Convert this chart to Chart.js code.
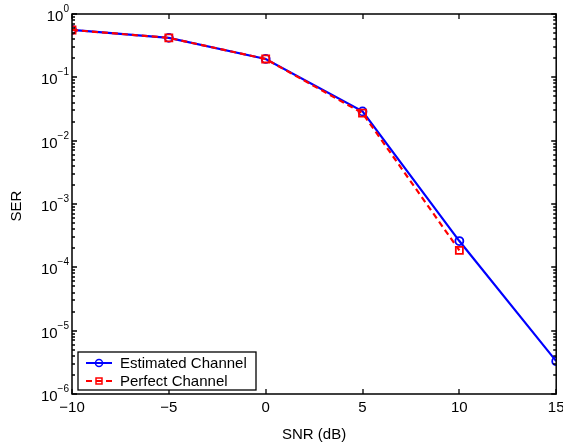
<!DOCTYPE html>
<html>
<head>
<meta charset="utf-8">
<script src="https://cdn.jsdelivr.net/npm/chart.js@4"></script>
<style>
  html, body { margin: 0; padding: 0; background: #fff; }
  #wrap { width: 563px; height: 445px; }
</style>
</head>
<body>
<div id="wrap"><canvas id="serChart" width="563" height="445"></canvas></div>
<script>
const snr = [-10, -5, 0, 5, 10, 15];
const serEstimated = [0.56, 0.42, 0.195, 0.0290, 2.6e-4, 3.3e-6];
const serPerfect = [0.56, 0.42, 0.195, 0.0272, 1.85e-4];
const xTicks = [-10, -5, 0, 5, 10, 15];
const yExponents = [0, -1, -2, -3, -4, -5, -6];
const seriesLabels = ['Estimated Channel', 'Perfect Channel'];

const FONT = '"Liberation Sans", Arial, sans-serif';

// axes box, ticks, superscript labels and legend drawn the MATLAB way
const matlabAxes = {
    id: 'matlabAxes',
    afterDraw(chart) {
        const ctx = chart.ctx;
        const xs = chart.scales.x, ys = chart.scales.y;
        const { left, right, top, bottom } = chart.chartArea;
        ctx.save();
        ctx.strokeStyle = '#000';
        ctx.lineWidth = 1.5;
        ctx.beginPath();
        ctx.rect(left, top, right - left, bottom - top);
        ctx.stroke();

        ctx.lineWidth = 1.3;
        ctx.beginPath();
        xTicks.forEach(v => {
            const px = Math.round(xs.getPixelForValue(v));
            ctx.moveTo(px, bottom); ctx.lineTo(px, bottom - 5);
            ctx.moveTo(px, top); ctx.lineTo(px, top + 5);
        });
        yExponents.forEach(e => {
            const py = Math.round(ys.getPixelForValue(Math.pow(10, e)));
            ctx.moveTo(left, py); ctx.lineTo(left + 5, py);
            ctx.moveTo(right, py); ctx.lineTo(right - 5, py);
            if (e > -6) {
                for (let m = 2; m <= 9; m++) {
                    const my = Math.round(ys.getPixelForValue(m * Math.pow(10, e - 1)));
                    ctx.moveTo(left, my); ctx.lineTo(left + 3, my);
                    ctx.moveTo(right, my); ctx.lineTo(right - 3, my);
                }
            }
        });
        ctx.stroke();

        ctx.fillStyle = '#000';
        ctx.font = '15px ' + FONT;
        ctx.textAlign = 'center';
        ctx.textBaseline = 'alphabetic';
        xTicks.forEach(v => {
            const label = v < 0 ? '\u2212' + Math.abs(v) : String(v);
            ctx.fillText(label, xs.getPixelForValue(v), bottom + 18);
        });

        yExponents.forEach(e => {
            const py = ys.getPixelForValue(Math.pow(10, e));
            const sup = e < 0 ? '\u2212' + Math.abs(e) : String(e);
            ctx.font = '10px ' + FONT;
            const supW = ctx.measureText(sup).width;
            ctx.font = '15px ' + FONT;
            const baseW = ctx.measureText('10').width;
            const xEnd = left - 3;
            ctx.textAlign = 'left';
            ctx.fillText('10', xEnd - supW - baseW, py + 7);
            ctx.font = '10px ' + FONT;
            ctx.fillText(sup, xEnd - supW, py - 2);
        });

        ctx.font = '15px ' + FONT;
        ctx.textAlign = 'center';
        ctx.textBaseline = 'middle';
        ctx.fillText('SNR (dB)', (left + right) / 2, 435);
        ctx.save();
        ctx.translate(17, (top + bottom) / 2 + 2);
        ctx.rotate(-Math.PI / 2);
        ctx.fillText('SER', 0, 0);
        ctx.restore();

        // legend
        const lx = 78, ly = 352, lw = 178, lh = 38;
        ctx.fillStyle = '#fff';
        ctx.fillRect(lx, ly, lw, lh);
        ctx.strokeStyle = '#000';
        ctx.lineWidth = 1.3;
        ctx.strokeRect(lx, ly, lw, lh);
        const rows = [ly + 11, ly + 29];
        chart.data.datasets.forEach((ds, i) => {
            const ry = rows[i];
            ctx.strokeStyle = ds.borderColor;
            ctx.lineWidth = 2;
            ctx.setLineDash(ds.borderDash || []);
            ctx.beginPath();
            ctx.moveTo(86, ry); ctx.lineTo(112, ry);
            ctx.stroke();
            ctx.setLineDash([]);
            ctx.lineWidth = 1.5;
            ctx.beginPath();
            if (ds.pointStyle === 'rect') {
                ctx.rect(96, ry - 3, 6, 6);
            } else {
                ctx.arc(99, ry, 3.5, 0, Math.PI * 2);
            }
            ctx.stroke();
            ctx.fillStyle = '#000';
            ctx.textAlign = 'left';
            ctx.font = '15px ' + FONT;
            ctx.fillText(ds.label, 120, ry + 1);
        });
        ctx.restore();
    }
};

new Chart(document.getElementById('serChart'), {
    type: 'line',
    data: {
        datasets: [
            {
                label: seriesLabels[0],
                data: snr.map((x, i) => ({ x: x, y: serEstimated[i] })),
                borderColor: '#0000ff',
                backgroundColor: 'rgba(0,0,0,0)',
                borderWidth: 2.2,
                pointStyle: 'circle',
                pointRadius: 4,
                pointBorderWidth: 1.8,
                pointBorderColor: '#0000ff',
                tension: 0,
                order: 1
            },
            {
                label: seriesLabels[1],
                data: snr.slice(0, serPerfect.length).map((x, i) => ({ x: x, y: serPerfect[i] })),
                borderColor: '#ff0000',
                backgroundColor: 'rgba(0,0,0,0)',
                borderWidth: 2.2,
                borderDash: [6, 4],
                pointStyle: 'rect',
                pointRadius: 5,
                pointBorderWidth: 1.8,
                pointBorderColor: '#ff0000',
                tension: 0,
                order: 0
            }
        ]
    },
    options: {
        responsive: false,
        animation: false,
        layout: { padding: { left: 64, right: 6, top: 14, bottom: 43 } },
        plugins: {
            legend: { display: false },
            tooltip: { enabled: false }
        },
        scales: {
            x: {
                type: 'linear',
                min: -10,
                max: 15,
                ticks: { display: false },
                grid: { display: false },
                border: { display: false }
            },
            y: {
                type: 'logarithmic',
                min: 1e-6,
                max: 1,
                ticks: { display: false },
                grid: { display: false },
                border: { display: false }
            }
        }
    },
    plugins: [matlabAxes]
});
</script>
</body>
</html>
